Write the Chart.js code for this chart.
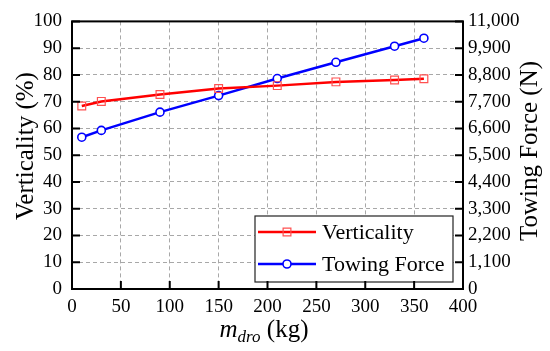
<!DOCTYPE html>
<html><head><meta charset="utf-8">
<script src="https://cdn.jsdelivr.net/npm/chart.js@4/dist/chart.umd.min.js"></script>
<style>html,body{margin:0;padding:0;background:#fff}#wrap{width:550px;height:351px}</style>
</head><body><div id="wrap"><canvas id="c" width="550" height="351"></canvas></div>
<script>
const massKg = [10, 30, 90, 150, 210, 270, 330, 360];
const verticality = [68.4, 70.1, 72.7, 74.9, 76.0, 77.4, 78.1, 78.6];
const towingForce = [6240, 6520, 7270, 7950, 8650, 9320, 9980, 10310];
const xTicks = [0, 50, 100, 150, 200, 250, 300, 350, 400];
const leftTicks = [0, 10, 20, 30, 40, 50, 60, 70, 80, 90, 100];
const rightTicks = [0, 1100, 2200, 3300, 4400, 5500, 6600, 7700, 8800, 9900, 11000];
const seriesNames = ['Verticality', 'Towing Force'];
const leftTitle = 'Verticality (%)';
const rightTitle = 'Towing Force (N)';
const xTitleVar = 'm', xTitleSub = 'dro', xTitleUnit = ' (kg)';

const FONT = '"Liberation Serif", "Times New Roman", serif';
const RED = '#ff0000', BLUE = '#0000ff';
const gridColor = '#a8a8a8';

function pts(ys){ return massKg.map((x,i)=>({x:x, y:ys[i]})); }

const decor = {
  id: 'decor',
  afterDraw(chart){
    const {ctx, chartArea:a, scales} = chart;
    ctx.save();
    // legend box
    const bx = a.right - 10, by = a.bottom - 7, bw = 198, bh = 66;
    ctx.fillStyle = '#fff';
    ctx.fillRect(bx - bw, by - bh, bw, bh);
    ctx.lineWidth = 1.2; ctx.strokeStyle = '#222';
    ctx.strokeRect(bx - bw, by - bh, bw, bh);
    const rows = [by - bh + 16, by - bh + 48];
    const lx0 = bx - bw + 3, lx1 = bx - bw + 61, mx = (lx0 + lx1)/2;
    chart.data.datasets.forEach((ds, i) => {
      const y = rows[i];
      ctx.strokeStyle = ds.borderColor; ctx.lineWidth = ds.borderWidth;
      ctx.beginPath(); ctx.moveTo(lx0, y); ctx.lineTo(lx1, y); ctx.stroke();
      ctx.lineWidth = ds.pointBorderWidth; ctx.strokeStyle = ds.pointBorderColor;
      ctx.beginPath();
      if (ds.pointStyle === 'rect') {
        const s = ds.pointRadius * Math.SQRT1_2;
        ctx.rect(mx - s, y - s, 2*s, 2*s);
      } else {
        ctx.fillStyle = '#fff';
        ctx.arc(mx, y, ds.pointRadius, 0, Math.PI*2);
        ctx.fill();
      }
      ctx.stroke();
      ctx.fillStyle = '#000';
      ctx.font = '22px ' + FONT;
      ctx.textAlign = 'left'; ctx.textBaseline = 'middle';
      ctx.fillText(ds.label, lx1 + 6, y + 1);
    });
    // frame
    ctx.lineWidth = 2; ctx.strokeStyle = '#000';
    ctx.strokeRect(a.left, a.top, a.right - a.left, a.bottom - a.top);
    // inward tick marks
    const tl = 8;
    ctx.beginPath();
    xTicks.forEach(v => { const x = scales.x.getPixelForValue(v); ctx.moveTo(x, a.bottom); ctx.lineTo(x, a.bottom - tl); });
    leftTicks.forEach(v => { const y = scales.y.getPixelForValue(v); ctx.moveTo(a.left, y); ctx.lineTo(a.left + tl, y); });
    rightTicks.forEach(v => { const y = scales.y1.getPixelForValue(v); ctx.moveTo(a.right, y); ctx.lineTo(a.right - tl, y); });
    ctx.stroke();
    // titles
    ctx.fillStyle = '#000';
    ctx.font = '25px ' + FONT;
    ctx.textAlign = 'center'; ctx.textBaseline = 'middle';
    ctx.save(); ctx.translate(26, 146); ctx.rotate(-Math.PI/2); ctx.fillText(leftTitle, 0, 0); ctx.restore();
    ctx.save(); ctx.translate(530, 151); ctx.rotate(-Math.PI/2); ctx.fillText(rightTitle, 0, 0); ctx.restore();
    // x title with subscript
    const fMain = 'italic 25px ' + FONT, fSub = 'italic 17px ' + FONT, fUnit = '25px ' + FONT;
    ctx.textAlign = 'left'; ctx.textBaseline = 'alphabetic';
    ctx.font = fMain; const w1 = ctx.measureText(xTitleVar).width;
    ctx.font = fSub; const w2 = ctx.measureText(xTitleSub).width;
    ctx.font = fUnit; const w3 = ctx.measureText(xTitleUnit).width;
    let x = 264 - (w1 + w2 + w3)/2; const base = 337;
    ctx.font = fMain; ctx.fillText(xTitleVar, x, base); x += w1;
    ctx.font = fSub; ctx.fillText(xTitleSub, x, base + 5); x += w2;
    ctx.font = fUnit; ctx.fillText(xTitleUnit, x, base);
    ctx.restore();
  }
};

new Chart(document.getElementById('c'), {
  type: 'line',
  data: {
    datasets: [
      { label: seriesNames[0], data: pts(verticality), yAxisID: 'y',
        borderColor: RED, borderWidth: 2.5, pointStyle: 'rect', pointRadius: 5.5,
        pointBorderColor: '#ff5050', pointBackgroundColor: 'rgba(0,0,0,0)', pointBorderWidth: 1.2, tension: 0 },
      { label: seriesNames[1], data: pts(towingForce.map(v=>v)), yAxisID: 'y1',
        borderColor: BLUE, borderWidth: 2.5, pointStyle: 'circle', pointRadius: 4,
        pointBorderColor: BLUE, pointBackgroundColor: '#fff', pointBorderWidth: 1.6, tension: 0 }
    ]
  },
  options: {
    responsive: false, animation: false, devicePixelRatio: 1,
    layout: { padding: { top: 18, left: 0, right: 0, bottom: 0 } },
    plugins: { legend: { display: false }, tooltip: { enabled: false } },
    scales: {
      x: { type: 'linear', position: 'bottom', min: 0, max: 400,
        afterBuildTicks: s => { s.ticks = xTicks.map(v => ({value: v})); },
        ticks: { font: { family: FONT, size: 19 }, color: '#000', padding: 7, maxRotation: 0, autoSkip: false },
        grid: { color: gridColor, lineWidth: 1, drawTicks: false },
        border: { display: false, dash: [4, 3] },
        afterFit: s => { s.height = 62; } },
      y: { type: 'linear', position: 'left', min: 0, max: 100,
        afterBuildTicks: s => { s.ticks = leftTicks.map(v => ({value: v})); },
        ticks: { font: { family: FONT, size: 19 }, color: '#000', padding: 10, autoSkip: false },
        grid: { color: gridColor, lineWidth: 1, drawTicks: false },
        border: { display: false, dash: [4, 3] },
        afterFit: s => { s.width = 72; } },
      y1: { type: 'linear', position: 'right', min: 0, max: 11000,
        afterBuildTicks: s => { s.ticks = rightTicks.map(v => ({value: v})); },
        ticks: { font: { family: FONT, size: 19 }, color: '#000', padding: 5, autoSkip: false,
          callback: v => Number(v).toLocaleString('en-US') },
        grid: { display: false, drawTicks: false },
        border: { display: false },
        afterFit: s => { s.width = 87; } }
    }
  },
  plugins: [decor]
});
</script></body></html>
